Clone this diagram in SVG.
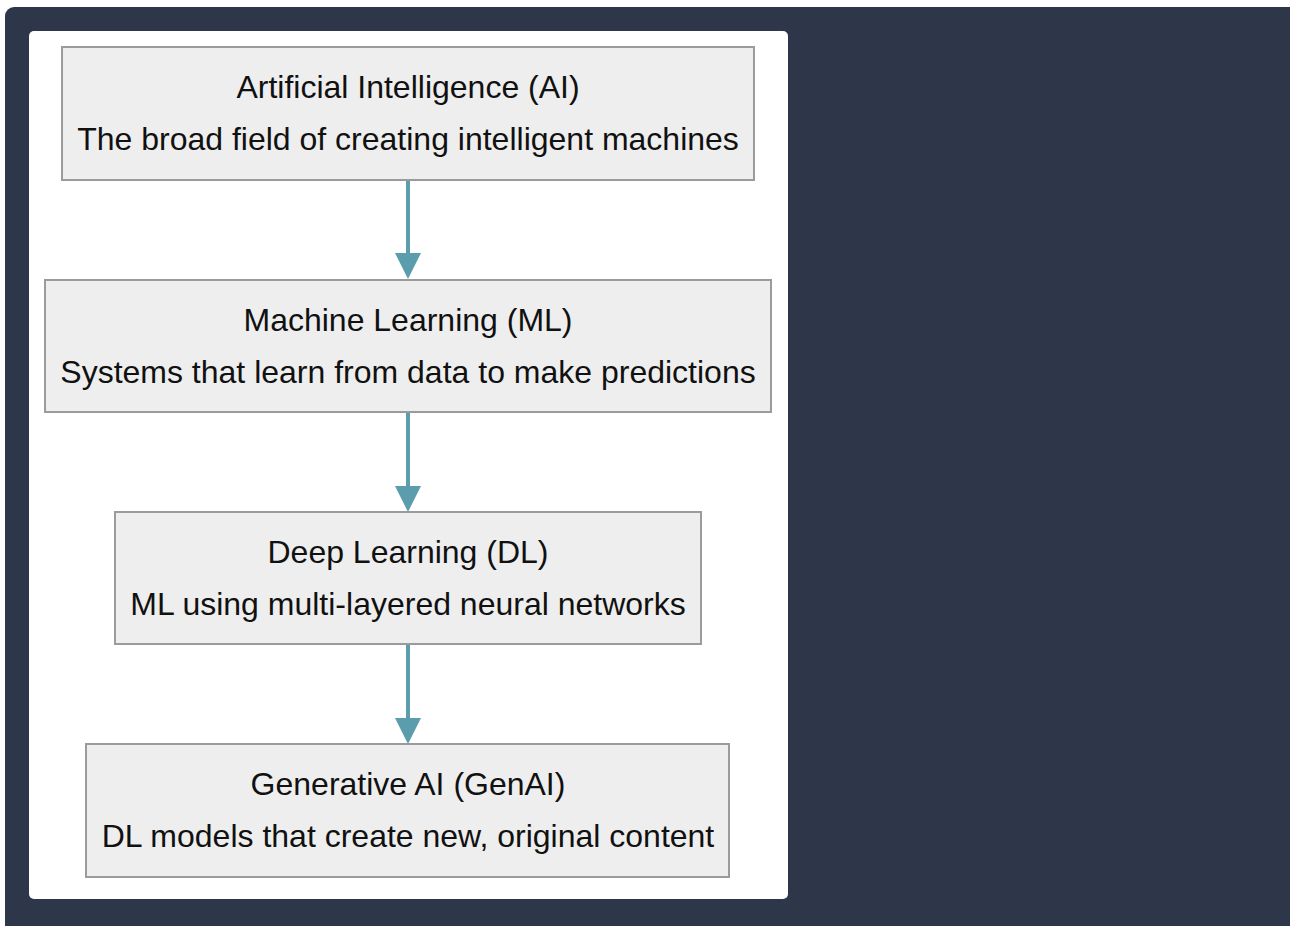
<svg xmlns="http://www.w3.org/2000/svg" width="1290" height="926" viewBox="0 0 1290 926">
<style>
.box{fill:#eeeeee;stroke:#9b9b9b;stroke-width:2}
.t{font-family:"Liberation Sans",Arial,sans-serif;font-size:32px;fill:#111;text-anchor:middle}
.c{stroke:#5b9cad;stroke-width:4;fill:none}
.h{fill:#5b9cad}
</style>
<rect x="5" y="7" width="1295" height="930" rx="9" fill="#2e3749"/>
<rect x="29" y="31" width="759" height="868" rx="5" fill="#ffffff"/>
<g id="connectors">
<line class="c" x1="408" y1="180" x2="408" y2="256"/>
<polygon class="h" points="395,253 421,253 408,279"/>
<line class="c" x1="408" y1="412" x2="408" y2="489"/>
<polygon class="h" points="395,486 421,486 408,512"/>
<line class="c" x1="408" y1="644" x2="408" y2="721"/>
<polygon class="h" points="395,718 421,718 408,744"/>
</g>
<g id="ai">
<rect class="box" x="62" y="47" width="692" height="133"/>
<text class="t" x="408" y="98">Artificial Intelligence (AI)</text>
<text class="t" x="408" y="150">The broad field of creating intelligent machines</text>
</g>
<g id="ml">
<rect class="box" x="45" y="280" width="726" height="132"/>
<text class="t" x="408" y="331">Machine Learning (ML)</text>
<text class="t" x="408" y="383">Systems that learn from data to make predictions</text>
</g>
<g id="dl">
<rect class="box" x="115" y="512" width="586" height="132"/>
<text class="t" x="408" y="563">Deep Learning (DL)</text>
<text class="t" x="408" y="615">ML using multi-layered neural networks</text>
</g>
<g id="genai">
<rect class="box" x="86" y="744" width="643" height="133"/>
<text class="t" x="408" y="795">Generative AI (GenAI)</text>
<text class="t" x="408" y="847">DL models that create new, original content</text>
</g>
</svg>
